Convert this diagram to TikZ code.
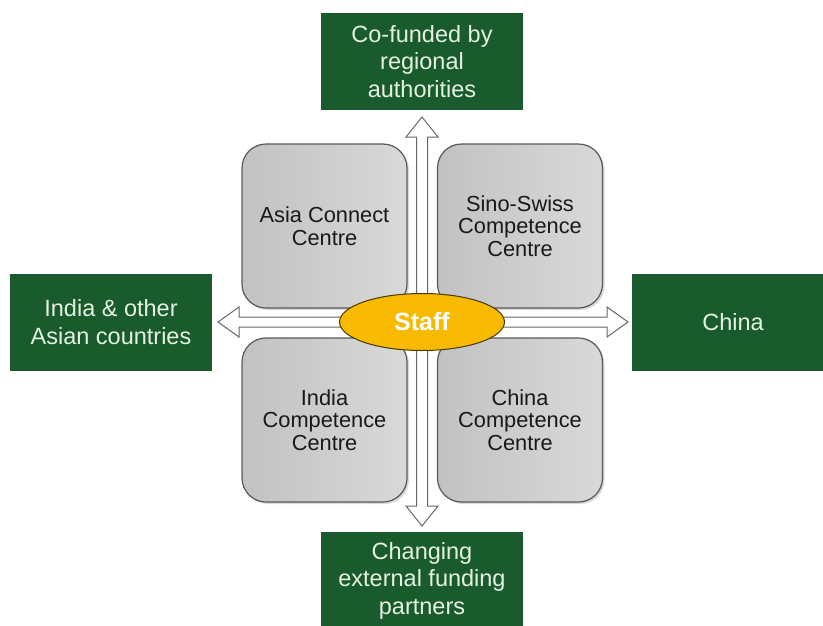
\documentclass[tikz,border=0pt]{standalone}
\usepackage{fontspec}
\setmainfont{Liberation Sans}
\usetikzlibrary{shapes.geometric,shadows}
\definecolor{dgreen}{HTML}{195B2D}
\definecolor{gtext}{HTML}{E4F2E2}
\definecolor{staffy}{HTML}{F7BA00}
\begin{document}
\begin{tikzpicture}[x=1pt,y=-1pt,
 greenbox/.style={fill=dgreen, text=gtext, minimum width=202pt, minimum height=97pt, align=center, font=\fontsize{23.5}{27.5}\selectfont, inner sep=0pt},
 graybox/.style={draw=black!65, line width=1.2pt, rounded corners=24pt, left color=black!24, right color=black!15, minimum width=165pt, minimum height=164pt, align=center, font=\fontsize{21.8}{22.5}\selectfont, text=black!90, drop shadow={opacity=0.3, shadow xshift=2pt, shadow yshift=-2pt}, inner sep=0pt},
 hollow/.style={draw=black!60, fill=white, line width=1pt, line join=miter},
 staffnode/.style={ellipse, draw=black!70!staffy, line width=1pt, fill=staffy, minimum width=165pt, minimum height=57pt, text=white, font=\bfseries\fontsize{25}{28}\selectfont, inner sep=0pt}
]
\clip (0,0) rectangle (823,625);
\fill[white] (0,0) rectangle (823,625);

% green boxes
\node[greenbox] (top) at (422,61.5) {Co-funded by\\regional\\authorities};
\node[greenbox] (left) at (111,322) {India \& other\\Asian countries};
\node[greenbox] (right) at (733,322) {China};
\node[greenbox] (bottom) at (422,580.5) {Changing\\external funding\\partners};

% gray boxes
\node[graybox] (acc) at (324.5,226) {Asia Connect\\Centre};
\node[graybox] (sscc) at (520,226) {Sino-Swiss\\Competence\\Centre};
\node[graybox] (icc) at (324.5,420) {India\\Competence\\Centre};
\node[graybox] (ccc) at (520,420) {China\\Competence\\Centre};

% hollow double arrows
\coordinate (vt) at (422,117);
\coordinate (vb) at (422,526);
\coordinate (hl) at (218,322);
\coordinate (hr) at (628,322);
\draw[hollow] (vt) -- ([shift={(16,20)}]vt) -- ([shift={(5.5,20)}]vt) -- ([shift={(5.5,-20)}]vb) -- ([shift={(16,-20)}]vb) -- (vb) -- ([shift={(-16,-20)}]vb) -- ([shift={(-5.5,-20)}]vb) -- ([shift={(-5.5,20)}]vt) -- ([shift={(-16,20)}]vt) -- cycle;
\draw[hollow] (hl) -- ([shift={(21,-15)}]hl) -- ([shift={(21,-5)}]hl) -- ([shift={(-21,-5)}]hr) -- ([shift={(-21,-15)}]hr) -- (hr) -- ([shift={(-21,15)}]hr) -- ([shift={(-21,5)}]hr) -- ([shift={(21,5)}]hl) -- ([shift={(21,15)}]hl) -- cycle;

% staff
\node[staffnode] (staff) at (422,322) {Staff};
\end{tikzpicture}
\end{document}
